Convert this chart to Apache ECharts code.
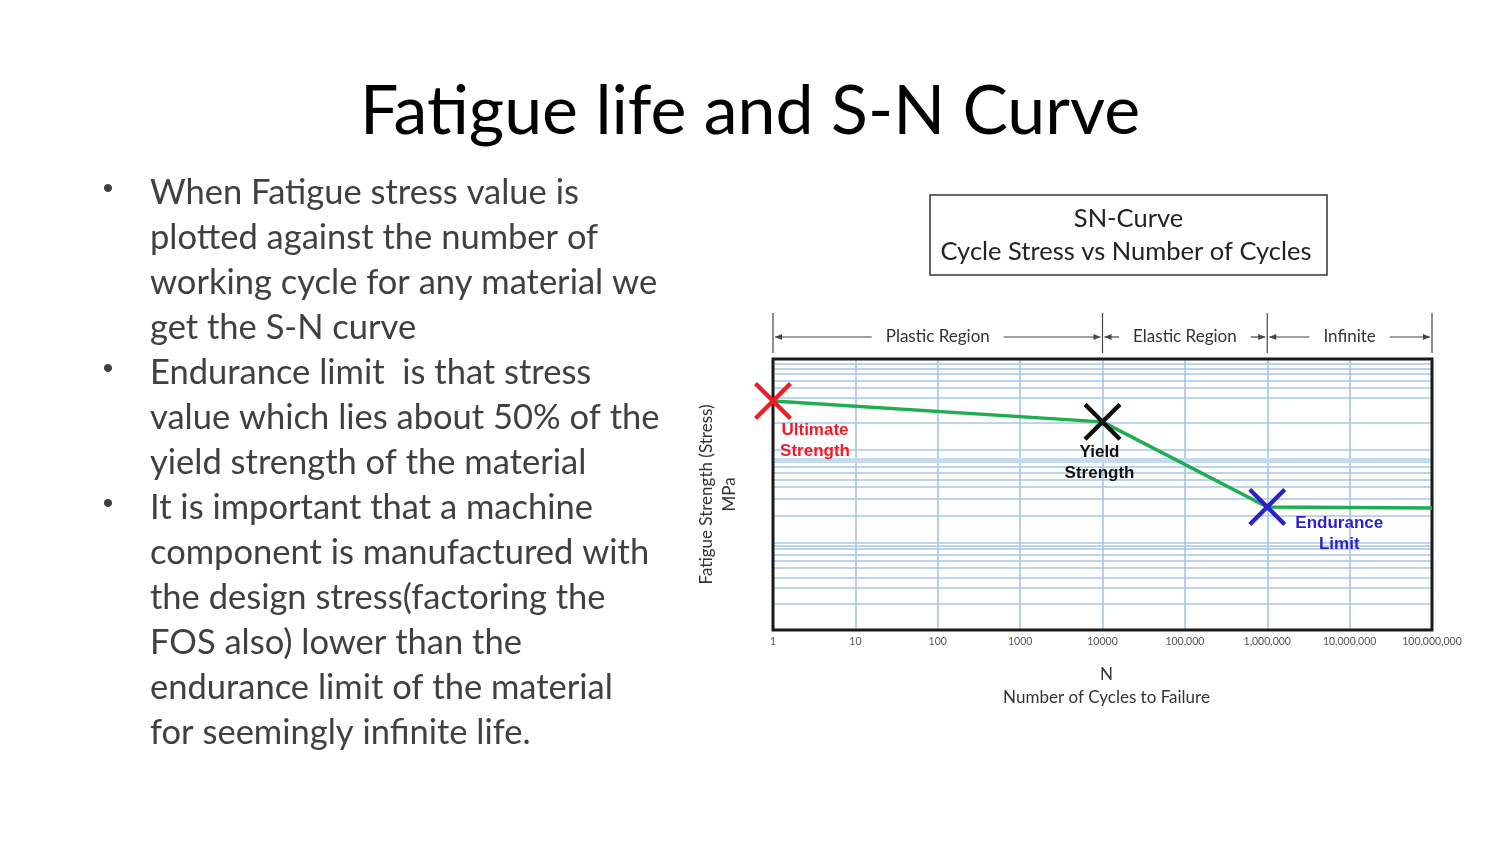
<!DOCTYPE html>
<html><head><meta charset="utf-8">
<script src="https://cdn.jsdelivr.net/npm/echarts@6/dist/echarts.min.js"></script>
<style>html,body{margin:0;padding:0;background:#fff}#c{width:1500px;height:844px}</style>
</head><body><div id="c"></div>
<script>
// ---- data ----
const tickLabels = ['1','10','100','1000','10000','100,000','1,000,000','10,000,000','100,000,000'];
const curveCycles = [1, 10000, 1000000, 100000000];
const curveStress = [84.5, 76.8, 45.4, 45.0];
const pointNames = ['Ultimate\nStrength', 'Yield\nStrength', 'Endurance\nLimit'];
const pointCycles = [1, 10000, 1000000];
const pointStress = [84.5, 76.8, 45.4];
const stressGridValues = [98.2, 96.3, 94.5, 91.9, 89.3, 85.6, 76.4, 66.4, 60.1, 57.9, 55.4, 52.8, 48.3, 42.1, 32.1, 31.0, 29.9, 27.7, 25.5, 22.9, 19.2, 15.5, 9.6];
const stressBandValues = [62.7];
const regionBounds = [1, 10000, 1000000, 100000000];
const regionNames = ['Plastic Region', 'Elastic Region', 'Infinite'];
const slideTitle = 'Fatigue life and S-N Curve';
const boxTitle = ['SN-Curve', 'Cycle Stress vs Number of Cycles'];
const bullets = [
  ['When Fatigue stress value is', 'plotted against the number of', 'working cycle for any material we', 'get the S-N curve'],
  ['Endurance limit  is that stress', 'value which lies about 50% of the', 'yield strength of the material'],
  ['It is important that a machine', 'component is manufactured with', 'the design stress(factoring the', 'FOS also) lower than the', 'endurance limit of the material', 'for seemingly infinite life.']
];

// ---- styles ----
const FONT = 'Lato, "Open Sans", sans-serif';
const pointColors = ['#ee1c24', '#111111', '#2b1fc9'];
const labelOffsets = [[42, 40], [-3, 41], [72, 27]];
const crossPath = 'path://M0,1.6L1.6,0L10,8.4L18.4,0L20,1.6L11.6,10L20,18.4L18.4,20L10,11.6L1.6,20L0,18.4L8.4,10Z';

const chart = echarts.init(document.getElementById('c'), null, {renderer: 'canvas'});

const option = {
  backgroundColor: '#ffffff',
  animation: false,
  title: {
    text: slideTitle,
    left: 'center',
    top: 66,
    textStyle: {fontFamily: FONT, fontSize: 68, fontWeight: 'normal', color: '#000', lineHeight: 82}
  },
  grid: {left: 773, right: 68, top: 359, bottom: 214, show: false},
  xAxis: {
    type: 'log', logBase: 10, min: 1, max: 100000000, splitNumber: 8,
    name: 'N\nNumber of Cycles to Failure', nameLocation: 'middle', nameGap: 33,
    nameTextStyle: {fontFamily: FONT, fontSize: 17, color: '#333', lineHeight: 23, padding: [0, 0, 0, 8]},
    axisLine: {show: false}, axisTick: {show: false},
    axisLabel: {
      show: true, fontFamily: FONT, fontSize: 10.5, color: '#555', margin: 6,
      showMinLabel: true, showMaxLabel: true, hideOverlap: false,
      formatter: v => tickLabels[Math.round(Math.log10(v))]
    },
    splitLine: {show: true, lineStyle: {color: '#9cc2e6', width: 1.5}}
  },
  yAxis: {
    type: 'value', min: 0, max: 100,
    name: 'Fatigue Strength (Stress)\nMPa', nameLocation: 'middle', nameRotate: 90, nameGap: 32,
    nameTextStyle: {fontFamily: FONT, fontSize: 17, color: '#333', lineHeight: 23},
    axisLine: {show: false}, axisTick: {show: false}, axisLabel: {show: false}, splitLine: {show: false}
  },
  series: [
    {
      type: 'line', data: [], silent: true, z: 1,
      markLine: {
        silent: true, z: 1, symbol: 'none', label: {show: false},
        data: stressBandValues.map(v => ({yAxis: v, lineStyle: {color: '#c6dbf0', width: 5, type: 'solid'}}))
          .concat(stressGridValues.map(v => ({yAxis: v, lineStyle: {color: '#a6c7e7', width: 1.5, type: 'solid'}})))
      }
    },
    {
      type: 'line', name: 'S-N curve', z: 10, symbol: 'none',
      data: curveCycles.map((c, i) => [c, curveStress[i]]),
      lineStyle: {color: '#1fae4f', width: 3.5}
    },
    {
      type: 'scatter', z: 12, symbol: crossPath, symbolSize: 38,
      data: pointCycles.map((c, i) => ({
        value: [c, pointStress[i]],
        itemStyle: {color: pointColors[i], opacity: 1},
        label: {
          show: true, position: 'inside', offset: labelOffsets[i], formatter: pointNames[i],
          align: 'center', verticalAlign: 'middle',
          fontFamily: '"Liberation Sans", Arial, sans-serif', fontWeight: 'bold', fontSize: 17, lineHeight: 21,
          color: pointColors[i]
        }
      }))
    }
  ]
};
chart.setOption(option);

// ---- annotations computed through the axes ----
const ctx = document.createElement('canvas').getContext('2d');
function textW(t, size) { ctx.font = size + 'px ' + FONT; return ctx.measureText(t).width; }
const gEls = [];
const gridTop = chart.convertToPixel({yAxisIndex: 0}, 100);
const gridBottom = chart.convertToPixel({yAxisIndex: 0}, 0);
const arrowY = gridTop - 22;
const xs = regionBounds.map(v => chart.convertToPixel({xAxisIndex: 0}, v));
// plot frame on top of gridlines
gEls.push({type: 'rect', z: 5, shape: {x: xs[0], y: gridTop, width: xs[3] - xs[0], height: gridBottom - gridTop}, style: {fill: 'none', stroke: '#1a1a1a', lineWidth: 3}, silent: true});
xs.forEach((x, i) => {
  gEls.push({type: 'line', shape: {x1: x, y1: gridTop - 46, x2: x, y2: gridTop - 6}, style: {stroke: '#444', lineWidth: 1.2}, silent: true});
});
function arrowHead(x, y, dir) {
  return {type: 'polygon', shape: {points: [[x, y], [x - dir * 7, y - 3], [x - dir * 7, y + 3]]}, style: {fill: '#444'}, silent: true};
}
regionNames.forEach((name, i) => {
  const x0 = xs[i] + 2, x1 = xs[i + 1] - 2, cx = (xs[i] + xs[i + 1]) / 2;
  const w = textW(name, 17);
  const gap = 14;
  gEls.push({type: 'text', x: cx, y: arrowY, style: {text: name, fontFamily: FONT, fontSize: 17, fill: '#333', align: 'center', verticalAlign: 'middle'}, silent: true});
  gEls.push({type: 'line', shape: {x1: x0, y1: arrowY, x2: cx - w / 2 - gap, y2: arrowY}, style: {stroke: '#444', lineWidth: 1.2}, silent: true});
  gEls.push({type: 'line', shape: {x1: cx + w / 2 + gap, y1: arrowY, x2: x1, y2: arrowY}, style: {stroke: '#444', lineWidth: 1.2}, silent: true});
  gEls.push(arrowHead(x0, arrowY, -1));
  gEls.push(arrowHead(x1, arrowY, 1));
});
// SN box
gEls.push({type: 'rect', shape: {x: 930, y: 195, width: 397, height: 80}, style: {fill: '#fff', stroke: '#333', lineWidth: 1.5}, silent: true});
gEls.push({type: 'text', x: 1128.5, y: 219, style: {text: boxTitle[0], fontFamily: FONT, fontSize: 25.5, fill: '#222', align: 'center', verticalAlign: 'middle'}, silent: true});
gEls.push({type: 'text', x: 1126, y: 252, style: {text: boxTitle[1], fontFamily: FONT, fontSize: 25.5, fill: '#222', align: 'center', verticalAlign: 'middle'}, silent: true});
// bullets
let lineIdx = 0;
bullets.forEach(b => {
  const y = 192 + lineIdx * 45;
  gEls.push({type: 'text', x: 108, y: y - 2, style: {text: '•', fontFamily: 'Arial, sans-serif', fontSize: 30, fill: '#404040', align: 'center', verticalAlign: 'middle'}, silent: true});
  gEls.push({type: 'text', x: 150, y: y - 21.5, style: {text: b.join('\n'), fontFamily: FONT, fontSize: 34.5, lineHeight: 45, fill: '#404040', align: 'left', verticalAlign: 'top'}, silent: true});
  lineIdx += b.length;
});
chart.setOption({graphic: {elements: gEls}});
</script>
</body></html>
